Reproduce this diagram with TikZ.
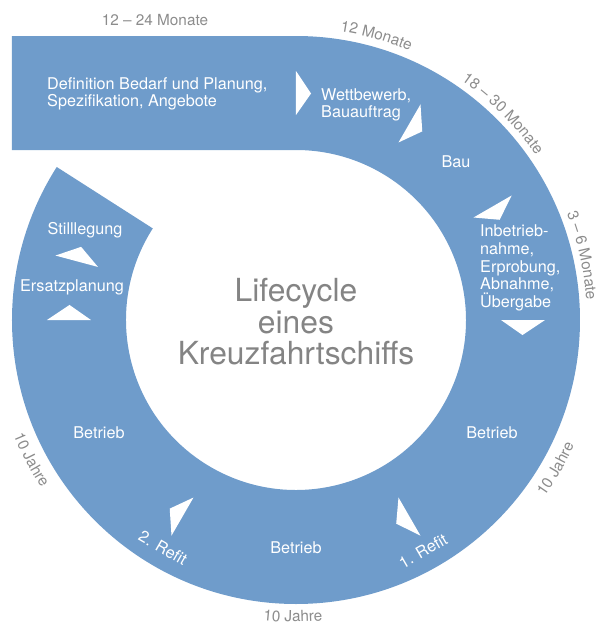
\documentclass[tikz,border=0pt]{standalone}
\usepackage{fontspec}
\setmainfont{TeX Gyre Heros}
\usetikzlibrary{decorations.text}
\definecolor{ringblue}{RGB}{111,156,203}
\definecolor{labelgray}{RGB}{140,140,140}
\definecolor{titlegray}{RGB}{132,132,132}
\begin{document}
\begin{tikzpicture}[x=1pt,y=1pt,
  ring/.style={fill=ringblue},
  phase/.style={text=white, font=\fontsize{16.2}{17.6}\selectfont, inner sep=0pt},
  phasel/.style={phase, align=left},
  tick/.style={fill=white},
  title/.style={text=titlegray, font=\fontsize{31.8}{31.5}\selectfont, align=center, inner sep=0pt},
  durlabel/.style={text=labelgray, font=\fontsize{15.3}{15.3}\selectfont, inner sep=0pt},
  arclabel/.style={decorate, decoration={text along path, text align=center,
     text={|\fontsize{15.3}{15.3}\selectfont\color{labelgray}|#1}}}]
\useasboundingbox (-296,-305) rectangle (316,320);
% ring with top bar
\fill[ring] (-284,284) -- (0,284) arc[start angle=90, end angle=-212.6, radius=284]
  -- (-212.6:170) arc[start angle=-212.6, end angle=90, radius=170] -- (-284,170) -- cycle;
% white arrow ticks
\foreach \a in {90,60,30,0,-60,-120,-180,-195}
  \fill[tick] (\a:205) -- (\a:249) -- ({\a-3.8}:227) -- cycle;
% phase texts
\node[phasel, anchor=west] (def) at (-249,226) {Definition Bedarf und Planung,\\Spezifikation, Angebote};
\node[phasel, anchor=west] (wett) at (25,215) {Wettbewerb,\\Bauauftrag};
\node[phase] (bau) at (160,158) {Bau};
\node[phasel, anchor=west] (inbe) at (184,52) {Inbetrieb-\\nahme,\\Erprobung,\\Abnahme,\\Übergabe};
\node[phase] (betr1) at (196,-113) {Betrieb};
\node[phase, rotate=30] (refit1) at (127,-231) {1. Refit};
\node[phase] (betr2) at (0,-228) {Betrieb};
\node[phase, rotate=-30] (refit2) at (-133,-228) {2. Refit};
\node[phase] (betr3) at (-197,-113) {Betrieb};
\node[phase] (ersatz) at (-224,33) {Ersatzplanung};
\node[phase] (still) at (-211,90) {Stilllegung};
% title
\node[title] (title) at (0,-2) {Lifecycle\\eines\\Kreuzfahrtschiffs};
% duration labels
\node[durlabel] (d0) at (-141,300) {12 – 24 Monate};
\path[arclabel={12 Monate}] (99.2:292) arc[start angle=99.2, end angle=49.2, radius=292];
\path[arclabel={18 – 30 Monate}] (74.9:291) arc[start angle=74.9, end angle=14.9, radius=291];
\path[arclabel={3 – 6 Monate}] (42.7:291) arc[start angle=42.7, end angle=-17.3, radius=291];
\path[arclabel={10 Jahre}] (-54.8:305) arc[start angle=-54.8, end angle=-4.8, radius=305];
\path[arclabel={10 Jahre}] (-115.6:302) arc[start angle=-115.6, end angle=-65.6, radius=302];
\path[arclabel={10 Jahre}] (-177.2:305) arc[start angle=-177.2, end angle=-127.2, radius=305];
\end{tikzpicture}
\end{document}
